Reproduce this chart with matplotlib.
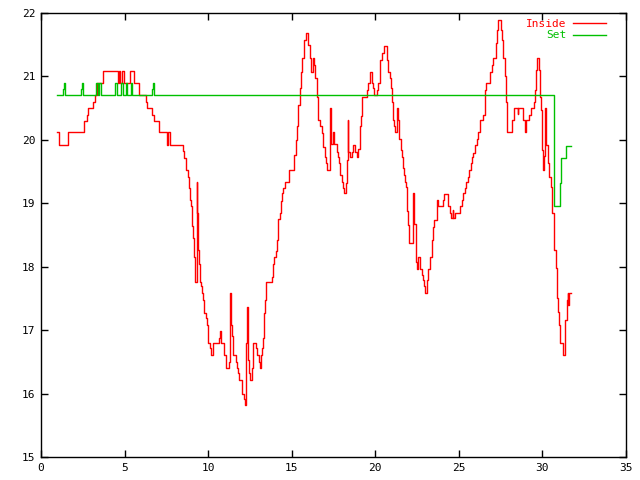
import matplotlib
matplotlib.use("Agg")
import matplotlib.pyplot as plt

# day of month and temperature (deg C), step data
inside_t = [0.96, 1.09, 1.63, 2.59, 2.73, 2.83, 3.13, 3.25, 3.37, 3.73,
            4.61, 4.67, 4.73, 4.82, 4.98, 5.32, 5.55, 5.88, 6.28, 6.34,
            6.62, 6.78, 7.08, 7.52, 7.58, 7.75, 8.51, 8.57, 8.66, 8.69,
            8.80, 8.86, 8.92, 8.97, 9.02, 9.09, 9.14, 9.20, 9.23, 9.32,
            9.35, 9.41, 9.47, 9.53, 9.57, 9.63, 9.71, 9.77, 9.85, 9.91,
            9.97, 10.01, 10.11, 10.17, 10.31, 10.67, 10.71, 10.75, 10.95, 11.07,
            11.25, 11.31, 11.35, 11.41, 11.51, 11.65, 11.71, 11.80, 11.86, 12.04,
            12.15, 12.21, 12.27, 12.34, 12.39, 12.41, 12.46, 12.52, 12.62, 12.70,
            12.88, 12.94, 13.06, 13.10, 13.14, 13.20, 13.26, 13.32, 13.36, 13.42,
            13.48, 13.84, 13.90, 13.96, 14.04, 14.10, 14.20, 14.30, 14.36, 14.40,
            14.50, 14.60, 14.86, 15.14, 15.24, 15.33, 15.39, 15.50, 15.54, 15.63,
            15.74, 15.85, 15.96, 16.09, 16.15, 16.26, 16.35, 16.41, 16.50, 16.59,
            16.69, 16.79, 16.85, 16.89, 16.99, 17.05, 17.09, 17.29, 17.35, 17.49,
            17.55, 17.69, 17.79, 17.85, 17.89, 17.99, 18.09, 18.15, 18.25, 18.29,
            18.35, 18.39, 18.49, 18.59, 18.67, 18.79, 18.89, 18.98, 19.09, 19.15,
            19.22, 19.49, 19.58, 19.68, 19.79, 19.88, 19.94, 20.09, 20.18, 20.28,
            20.38, 20.52, 20.72, 20.78, 20.88, 20.94, 21.02, 21.08, 21.14, 21.20,
            21.32, 21.38, 21.44, 21.52, 21.58, 21.64, 21.72, 21.78, 21.84, 21.92,
            21.98, 22.04, 22.24, 22.27, 22.34, 22.42, 22.48, 22.54, 22.68, 22.78,
            22.84, 22.92, 22.98, 23.08, 23.17, 23.27, 23.38, 23.41, 23.47, 23.53,
            23.68, 23.77, 24.07, 24.13, 24.33, 24.47, 24.53, 24.63, 24.67, 24.77,
            25.07, 25.17, 25.27, 25.37, 25.43, 25.57, 25.63, 25.71, 25.77, 25.87,
            25.97, 26.07, 26.16, 26.27, 26.46, 26.56, 26.62, 26.86, 26.96, 27.06,
            27.22, 27.26, 27.34, 27.50, 27.56, 27.66, 27.76, 27.82, 27.90, 28.20,
            28.30, 28.52, 28.56, 28.82, 28.96, 29.00, 29.22, 29.30, 29.51, 29.57,
            29.62, 29.68, 29.78, 29.81, 29.86, 29.90, 29.96, 30.00, 30.05, 30.11,
            30.15, 30.21, 30.35, 30.41, 30.51, 30.59, 30.69, 30.79, 30.85, 30.95,
            30.99, 31.05, 31.21, 31.25, 31.35, 31.45, 31.51, 31.55, 31.57, 31.69]
inside_v = [20.12, 19.92, 20.12, 20.30, 20.39, 20.50, 20.60, 20.71, 20.89, 21.08,
            20.89, 21.08, 20.89, 21.08, 20.89, 21.08, 20.89, 20.71, 20.60, 20.50,
            20.39, 20.30, 20.12, 19.92, 20.12, 19.92, 19.83, 19.72, 19.63, 19.52,
            19.42, 19.24, 19.05, 18.95, 18.64, 18.45, 18.16, 18.05, 17.76, 19.34,
            18.85, 18.27, 18.05, 17.76, 17.69, 17.58, 17.48, 17.27, 17.19, 17.08,
            16.98, 16.79, 16.71, 16.61, 16.79, 16.87, 16.98, 16.79, 16.61, 16.40,
            16.50, 17.58, 17.08, 16.90, 16.61, 16.50, 16.40, 16.32, 16.21, 16.00,
            15.92, 15.82, 16.79, 17.37, 16.98, 16.53, 16.32, 16.21, 16.40, 16.79,
            16.71, 16.61, 16.50, 16.40, 16.61, 16.71, 16.87, 16.98, 17.27, 17.48,
            17.76, 17.84, 18.05, 18.16, 18.24, 18.42, 18.75, 18.84, 19.03, 19.16,
            19.24, 19.33, 19.52, 19.76, 20.00, 20.21, 20.55, 20.81, 21.07, 21.29,
            21.57, 21.68, 21.50, 21.29, 21.07, 21.29, 21.18, 20.97, 20.68, 20.31,
            20.21, 20.10, 20.02, 19.89, 19.73, 19.63, 19.52, 20.50, 19.93, 20.13,
            19.93, 19.81, 19.73, 19.63, 19.45, 19.34, 19.24, 19.16, 19.32, 19.68,
            20.31, 19.81, 19.73, 19.81, 19.92, 19.81, 19.73, 19.85, 20.21, 20.37,
            20.68, 20.79, 20.89, 21.07, 20.89, 20.81, 20.71, 20.79, 20.89, 21.26,
            21.37, 21.48, 21.26, 21.07, 20.97, 20.81, 20.60, 20.31, 20.21, 20.13,
            20.50, 20.31, 20.02, 19.84, 19.73, 19.55, 19.45, 19.34, 19.26, 18.87,
            18.66, 18.37, 18.66, 19.16, 18.68, 18.08, 17.97, 18.16, 17.97, 17.87,
            17.79, 17.69, 17.58, 17.79, 17.97, 18.16, 18.27, 18.42, 18.63, 18.74,
            19.05, 18.95, 19.05, 19.14, 18.95, 18.84, 18.76, 18.90, 18.76, 18.84,
            18.95, 19.05, 19.16, 19.24, 19.34, 19.42, 19.52, 19.63, 19.73, 19.79,
            19.92, 20.02, 20.13, 20.31, 20.39, 20.79, 20.89, 21.07, 21.18, 21.29,
            21.52, 21.73, 21.89, 21.73, 21.57, 21.29, 21.00, 20.60, 20.13, 20.31,
            20.50, 20.40, 20.50, 20.31, 20.12, 20.31, 20.39, 20.50, 20.60, 20.79,
            21.10, 21.29, 21.20, 21.10, 20.68, 20.47, 20.23, 19.84, 19.53, 19.75,
            20.50, 19.92, 19.63, 19.42, 19.26, 18.85, 18.27, 17.98, 17.50, 17.29,
            17.08, 16.80, 16.69, 16.60, 17.16, 17.48, 17.58, 17.40, 17.58, 17.58]

set_t = [0.96, 1.33, 1.39, 1.45, 2.39, 2.45, 2.53, 3.27, 3.31, 3.39,
         3.47, 3.57, 4.43, 4.53, 4.77, 4.89, 5.07, 5.16, 5.37, 5.47,
         6.67, 6.72, 6.78, 30.71, 31.05, 31.09, 31.39, 31.69]
set_v = [20.71, 20.80, 20.89, 20.71, 20.80, 20.89, 20.71, 20.80, 20.89, 20.71,
         20.89, 20.71, 20.89, 20.71, 20.89, 20.71, 20.89, 20.71, 20.89, 20.71,
         20.80, 20.89, 20.71, 18.95, 19.32, 19.72, 19.91, 19.91]

plt.rcParams["font.family"] = "DejaVu Sans Mono"
plt.rcParams["font.size"] = 8

fig = plt.figure(figsize=(6.4, 4.8), dpi=100)
ax = fig.add_axes([0.064, 0.048, 0.914, 0.925])

ax.plot(inside_t, inside_v, drawstyle="steps-post", color="#ff0000", lw=1, label="Inside")
ax.plot(set_t, set_v, drawstyle="steps-post", color="#00c000", lw=1, label="Set")

ax.set_xlim(0, 35)
ax.set_ylim(15, 22)
ax.set_xticks(range(0, 36, 5))
ax.set_yticks(range(15, 23))
ax.tick_params(direction="in", length=5, width=1, top=True, right=True, pad=4)
for s in ax.spines.values():
    s.set_linewidth(1)

ax.legend(loc="upper right", bbox_to_anchor=(0.974, 0.997), frameon=False,
          markerfirst=False, labelcolor="linecolor", handlelength=3.0,
          handletextpad=0.55, labelspacing=0.15, borderaxespad=0, fontsize=8)

fig.savefig("out.png", dpi=100)
